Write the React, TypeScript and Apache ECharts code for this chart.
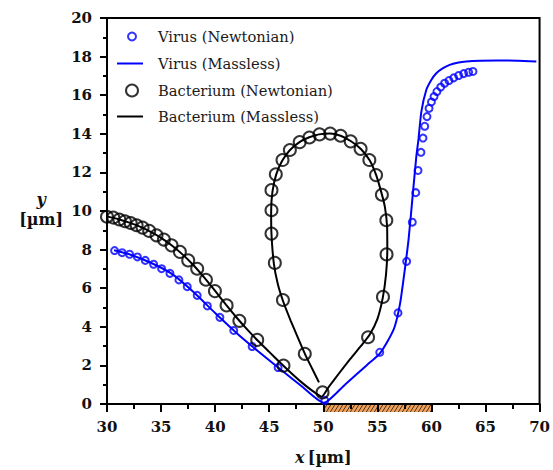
import React, { useEffect, useRef } from "react";
import * as echarts from "echarts";

// ---- data ----
const xTicks = { min: 30, max: 70, interval: 5 };
const yTicks = { min: 0, max: 20, interval: 2 };
const channelRange = [50, 60];

const virusNewtonX = [30.70, 31.40, 32.09, 32.81, 33.54, 34.31, 35.05, 35.82, 36.65, 37.42, 38.34, 39.28, 40.44, 41.72, 43.42, 45.82, 50.14,
  55.22, 56.91, 57.71, 58.23, 58.55, 58.76, 59.03, 59.22, 59.38, 59.59, 59.78, 60.0, 60.24, 60.51, 60.86, 61.22, 61.62, 62.06, 62.52, 62.98, 63.44, 63.84];
const virusNewtonY = [7.95, 7.84, 7.76, 7.62, 7.44, 7.24, 7.01, 6.77, 6.43, 6.08, 5.63, 5.08, 4.49, 3.81, 2.98, 1.89, 0.19,
  2.68, 4.72, 7.39, 9.42, 10.95, 12.10, 13.04, 13.78, 14.39, 14.89, 15.32, 15.65, 15.93, 16.19, 16.42, 16.62, 16.76, 16.90, 17.02, 17.12, 17.19, 17.23];

const virusMasslessX = [30.65, 32, 34, 36, 38, 40, 42, 44, 46, 48, 50.05, 52, 54, 55.2, 56, 56.6, 57.1, 57.5, 57.9, 58.3, 58.6, 58.8, 59.07, 59.53, 60.0, 60.45, 61.0, 61.69, 62.4, 63.23, 64.5, 66.0, 68.0, 69.7];
const virusMasslessY = [7.97, 7.77, 7.33, 6.74, 5.80, 4.71, 3.67, 2.72, 1.81, 0.92, 0.06, 1.0, 2.0, 2.6, 3.3, 4.0, 5.2, 6.8, 8.6, 11.0, 12.8, 13.7, 15.15, 16.28, 16.8, 17.14, 17.38, 17.57, 17.68, 17.75, 17.79, 17.80, 17.79, 17.75];

const bactNewtonX = [30.0, 30.58, 31.14, 31.66, 32.19, 32.74, 33.29, 33.90, 34.58, 35.26, 35.97, 36.74, 37.51, 38.34, 39.15, 39.98, 41.06, 42.24, 43.89, 46.32, 49.93,
  54.14, 55.52, 55.85, 55.83, 55.42, 54.88, 54.26, 53.45, 52.53, 51.60, 50.64, 49.65, 48.72, 47.82, 46.91, 46.23, 45.61, 45.21, 45.21, 45.21, 45.52, 46.27, 48.29];
const bactNewtonY = [9.70, 9.66, 9.56, 9.47, 9.38, 9.26, 9.14, 8.97, 8.74, 8.52, 8.22, 7.88, 7.44, 7.01, 6.44, 5.85, 5.11, 4.31, 3.32, 1.99, 0.60,
  3.46, 5.55, 7.75, 9.52, 10.84, 11.86, 12.64, 13.22, 13.61, 13.90, 14.01, 13.97, 13.81, 13.57, 13.16, 12.64, 11.90, 11.08, 10.04, 8.83, 7.31, 5.39, 2.60];

const bactMasslessX = [30, 31, 32, 33, 34, 35, 36, 37, 38, 39, 40, 41, 42, 43, 44, 45, 46, 47, 48, 49, 49.85,
  50.5, 51.5, 52.5, 53.5, 54.3, 55.0, 55.5, 55.8, 55.92, 55.9, 55.7, 55.4, 54.9, 54.3, 53.5, 52.6, 51.6, 50.6, 49.6, 48.7, 47.8, 46.9, 46.2, 45.65, 45.3, 45.18, 45.2, 45.43, 45.8, 46.3, 47.0, 47.6, 48.3, 49.0, 49.6];
const bactMasslessY = [9.72, 9.59, 9.41, 9.20, 8.93, 8.61, 8.21, 7.74, 7.19, 6.55, 5.86, 5.15, 4.47, 3.84, 3.25, 2.70, 2.15, 1.62, 1.12, 0.68, 0.38,
  0.88, 1.62, 2.34, 3.02, 3.60, 4.40, 5.50, 6.70, 8.00, 9.20, 10.20, 10.90, 11.85, 12.62, 13.20, 13.60, 13.90, 14.02, 13.97, 13.82, 13.57, 13.15, 12.60, 11.90, 11.00, 10.00, 8.90, 7.27, 6.20, 5.30, 4.30, 3.50, 2.60, 1.80, 1.12];

const zip = (xs: number[], ys: number[]) => xs.map((x, i) => [x, ys[i]]);

const BLUE = "#0000FF";
const FONT = "DejaVu Serif";

export default function App() {
  const ref = useRef<HTMLDivElement>(null);
  useEffect(() => {
    if (!ref.current) return;
    const chart = echarts.init(ref.current, undefined, { renderer: "svg" });
    const mkLegend = (name: string, cy: number, h: number, left: number, pad: number, icon?: string) => ({
      data: [icon ? { name, icon } : name],
      left,
      top: cy - 7,
      padding: 0,
      itemWidth: 26,
      itemHeight: h,
      selectedMode: false,
      textStyle: { fontFamily: FONT, fontSize: 14.7, color: "#1a1a1a", padding: [0, 0, 0, pad] },
    });
    const option: any = {
      animation: false,
      backgroundColor: "#fff",
      grid: { left: 107, right: 13, top: 18, bottom: 66, show: true, borderColor: "#000", borderWidth: 2, containLabel: false },
      legend: [
        mkLegend("Virus (Newtonian)", 36, 8, 127, 8),
        mkLegend("Virus (Massless)", 63, 2, 117, 10, "rect"),
        mkLegend("Bacterium (Newtonian)", 90, 12, 125, 8),
        mkLegend("Bacterium (Massless)", 116, 2, 117, 10, "rect"),
      ],
      xAxis: {
        type: "value",
        min: xTicks.min,
        max: xTicks.max,
        interval: xTicks.interval,
        axisLine: { onZero: false, lineStyle: { color: "#000", width: 2 } },
        axisTick: { inside: false, length: 8, lineStyle: { color: "#000", width: 2 } },
        minorTick: { show: true, splitNumber: 2, length: 5, lineStyle: { color: "#000", width: 2 } },
        splitLine: { show: false },
        axisLabel: { margin: 15, fontFamily: FONT, fontWeight: "bold", fontSize: 15, color: "#111" },
        name: "{i|x} {b|[µm]}",
        nameLocation: "middle",
        nameGap: 45,
        nameTextStyle: {
          rich: {
            i: { fontFamily: FONT, fontStyle: "italic", fontWeight: "bold", fontSize: 16, color: "#111" },
            b: { fontFamily: FONT, fontWeight: "bold", fontSize: 16, color: "#111" },
          },
        },
      },
      yAxis: {
        type: "value",
        min: yTicks.min,
        max: yTicks.max,
        interval: yTicks.interval,
        axisLine: { onZero: false, lineStyle: { color: "#000", width: 2 } },
        axisTick: { inside: false, length: 7, lineStyle: { color: "#000", width: 2 } },
        minorTick: { show: true, splitNumber: 2, length: 4, lineStyle: { color: "#000", width: 2 } },
        splitLine: { show: false },
        axisLabel: { margin: 15, fontFamily: FONT, fontWeight: "bold", fontSize: 15, color: "#111" },
        name: "{i|y}\n{b|[µm]}",
        nameLocation: "middle",
        nameRotate: 0,
        nameGap: 44,
        nameTextStyle: {
          padding: [0, 0, 4, 0],
          rich: {
            i: { fontFamily: FONT, fontStyle: "italic", fontWeight: "bold", fontSize: 16, color: "#111", align: "center", lineHeight: 20 },
            b: { fontFamily: FONT, fontWeight: "bold", fontSize: 16, color: "#111", align: "center", lineHeight: 20 },
          },
        },
      },
      series: [
        {
          type: "custom",
          name: "channel",
          z: -1,
          silent: true,
          clip: false,
          encode: { x: [0, 2], y: 1 },
          data: [[channelRange[0], 0, channelRange[1]]],
          renderItem: (params: any, api: any) => {
            const p0 = api.coord([api.value(0), 0]);
            const p1 = api.coord([api.value(2), 0]);
            const h = 8;
            const x0 = p0[0], x1 = p1[0], y0 = p0[1];
            const children: any[] = [
              { type: "rect", shape: { x: x0, y: y0, width: x1 - x0, height: h }, style: { fill: "#F0A25C" } },
            ];
            const dx = 5;
            for (let xs = x0 - dx; xs < x1; xs += 4) {
              const tMin = Math.max(0, (x0 - xs) / dx);
              const tMax = Math.min(1, (x1 - xs) / dx);
              if (tMin >= tMax) continue;
              children.push({
                type: "line",
                shape: { x1: xs + dx * tMin, y1: y0 + h - h * tMin, x2: xs + dx * tMax, y2: y0 + h - h * tMax },
                style: { stroke: "#3a2410", lineWidth: 0.9 },
              });
            }
            return { type: "group", children };
          },
        },
        {
          type: "line",
          name: "Virus (Massless)",
          data: zip(virusMasslessX, virusMasslessY),
          symbol: "none",
          smooth: 0.2,
          lineStyle: { color: BLUE, width: 2 },
          itemStyle: { color: BLUE },
          z: 3,
        },
        {
          type: "line",
          name: "Bacterium (Massless)",
          data: zip(bactMasslessX, bactMasslessY),
          symbol: "none",
          smooth: 0.2,
          lineStyle: { color: "#000", width: 2 },
          itemStyle: { color: "#000" },
          z: 3,
        },
        {
          type: "scatter",
          name: "Virus (Newtonian)",
          data: zip(virusNewtonX, virusNewtonY),
          symbol: "circle",
          symbolSize: 7,
          itemStyle: { color: "rgba(0,0,0,0)", borderColor: BLUE, borderWidth: 2 },
          z: 4,
        },
        {
          type: "scatter",
          name: "Bacterium (Newtonian)",
          data: zip(bactNewtonX, bactNewtonY),
          symbol: "circle",
          symbolSize: 12,
          itemStyle: { color: "rgba(0,0,0,0)", borderColor: "#000", borderWidth: 2 },
          z: 4,
        },
      ],
    };
    chart.setOption(option);
    return () => chart.dispose();
  }, []);
  return <div ref={ref} style={{ width: 553, height: 470, position: "fixed", left: 0, top: 0 }} />;
}
